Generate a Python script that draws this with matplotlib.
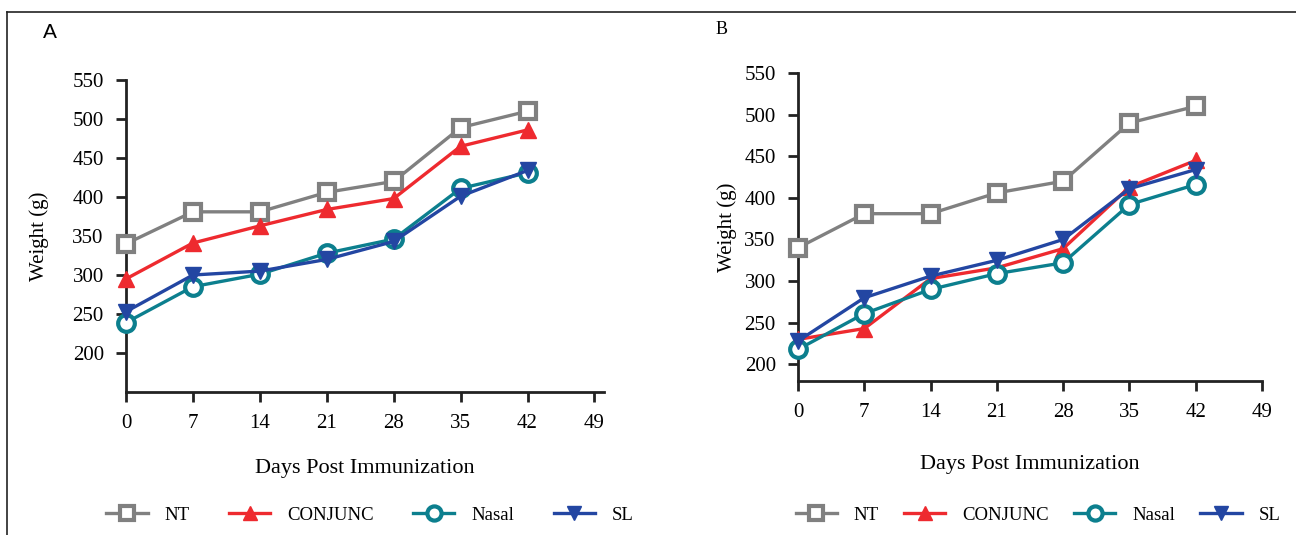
import matplotlib.pyplot as plt
from matplotlib.lines import Line2D

days = [0, 7, 14, 21, 28, 35, 42]
groups = ['NT', 'CONJUNC', 'Nasal', 'SL']

# panel A weights (g)
a_nt = [340, 381, 381, 406, 420, 489, 510]
a_conj = [295, 341, 363, 384, 398, 465, 486]
a_nasal = [239, 285, 301, 328, 346, 411, 431]
a_sl = [253, 300, 305, 320, 343, 401, 434]

# panel B weights (g)
b_nt = [340, 381, 381, 406, 420, 490, 510]
b_conj = [230, 243, 303, 316, 339, 413, 445]
b_nasal = [218, 261, 290, 309, 322, 392, 416]
b_sl = [228, 280, 306, 325, 350, 411, 434]

yticks = [200, 250, 300, 350, 400, 450, 500, 550]
xticks = [0, 7, 14, 21, 28, 35, 42, 49]

colors = {'NT': '#808080', 'CONJUNC': '#ee2a2f', 'Nasal': '#0c7f8e', 'SL': '#2346a2'}
styles = {
    'NT': dict(marker='s', mfc='white', mew=3, ms=12),
    'CONJUNC': dict(marker='^', ms=12),
    'Nasal': dict(marker='o', mfc='white', mew=3, ms=12),
    'SL': dict(marker='v', ms=12),
}

plt.rcParams['font.family'] = 'Liberation Serif'

fig = plt.figure(figsize=(12.96, 5.35), dpi=100)

# outer frame (top and left only)
fig.add_artist(Line2D([7 / 1296, 1], [1 - 12 / 535] * 2, color='#222222', lw=1.2))
fig.add_artist(Line2D([7 / 1296] * 2, [0, 1 - 12 / 535], color='#222222', lw=1.2))


def panel(rect, data, ylo, xhi, xlab_y, ylab_x):
    ax = fig.add_axes(rect)
    for g, vals in zip(groups, data):
        ax.plot(days, vals, color=colors[g], lw=2.4, mec=colors[g], label=g,
                clip_on=False, zorder=3, **styles[g])
    ax.set_xlim(0, xhi)
    ax.set_ylim(ylo, 550)
    ax.set_xticks(xticks)
    ax.set_yticks(yticks)
    ax.spines['top'].set_visible(False)
    ax.spines['right'].set_visible(False)
    for s in ['left', 'bottom']:
        ax.spines[s].set_linewidth(2)
        ax.spines[s].set_color('#222222')
    ax.tick_params(width=2, length=7, color='#222222', labelsize=15, pad=9)
    ax.set_xlabel('Days Post Immunization', fontsize=16, va='center')
    ax.set_ylabel('Weight (g)', fontsize=15, va='center')
    ax.xaxis.set_label_coords(0.5, xlab_y)
    ax.yaxis.set_label_coords(ylab_x, 0.5)
    return ax


axA = panel([126 / 1296, 1 - 392 / 535, 478 / 1296, 312 / 535],
            [a_nt, a_conj, a_nasal, a_sl], 150, 50, -76 / 312, -87 / 478)
axB = panel([798 / 1296, 1 - 381 / 535, 464 / 1296, 308 / 535],
            [b_nt, b_conj, b_nasal, b_sl], 180, 49, -83 / 308, -71 / 464)

fig.text(50 / 1296, 1 - 33 / 535, 'A', fontsize=15, family='Liberation Sans',
         ha='center', va='center')
fig.text(722 / 1296, 1 - 30 / 535, 'B', fontsize=13, ha='center', va='center')

for ax, cx, cs in [(axA, 370, 2.1), (axB, 1038, 1.35)]:
    h, l = ax.get_legend_handles_labels()
    fig.legend(h, l, loc='center', bbox_to_anchor=(cx / 1296, 1 - 515 / 535),
               ncol=4, frameon=False, fontsize=13.5, handlelength=2.2,
               handletextpad=0.9, columnspacing=cs, markerscale=0.85)

fig.savefig('out.png', dpi=100)
